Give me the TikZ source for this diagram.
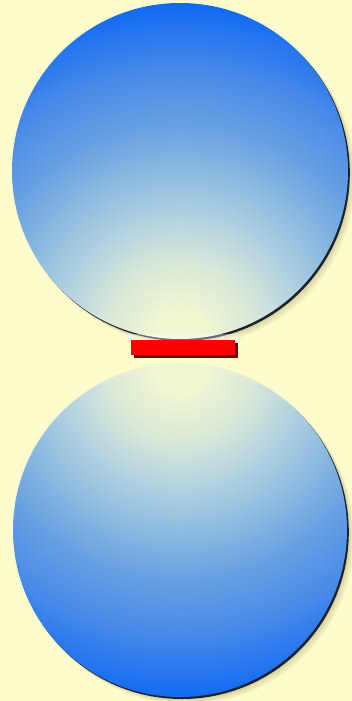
\documentclass[tikz,border=0pt]{standalone}
\usetikzlibrary{calc}
\definecolor{bg}{RGB}{253,252,204}
\definecolor{cream}{RGB}{242,246,210}
\definecolor{c1}{RGB}{216,232,216}
\definecolor{c2}{RGB}{176,208,224}
\definecolor{c3}{RGB}{136,184,224}
\definecolor{c4}{RGB}{104,160,226}
\definecolor{c5}{RGB}{72,138,232}
\definecolor{c6}{RGB}{10,102,245}
\definecolor{rimdark}{RGB}{26,34,48}
\definecolor{blurc}{RGB}{170,160,110}
\definecolor{barred}{RGB}{250,0,0}
\definecolor{bardark}{RGB}{130,0,0}
\pgfdeclareradialshading{glow}{\pgfpoint{0bp}{0bp}}{%
  color(0bp)=(cream); color(1.8bp)=(cream); color(5.5bp)=(c1); color(9bp)=(c2); color(12.5bp)=(c3);
  color(15.5bp)=(c4); color(19.5bp)=(c5); color(25bp)=(c6); color(50bp)=(c6)}
\tikzset{
  shadowring/.style={fill=blurc, opacity=0.12},
  rim/.style={fill=rimdark},
}
\begin{document}
\begin{tikzpicture}[x=1pt,y=-1pt]
\useasboundingbox (0,0) rectangle (352,701);
\fill[bg] (0,0) rectangle (352,701);
% named centres
\coordinate (topc) at (180,171);
\coordinate (botc) at (180,530);
\coordinate (topglow) at (180,336);
\coordinate (botglow) at (180,368);
% top circle shadow
\foreach \s in {7,5.5,4,3}{\fill[shadowring] ($(topc)+(\s,\s)$) circle (168);}
\fill[rim] ($(topc)+(1.8,2)$) circle (168);
\begin{scope}
  \clip (topc) circle (168);
  \shade[shading=glow] (topglow) circle (340);
\end{scope}
% bottom circle shadow
\foreach \s in {7,5.5,4,3}{\fill[shadowring] ($(botc)+(\s,\s)$) circle (167);}
\fill[rim] ($(botc)+(1.8,2)$) circle (167);
\begin{scope}
  \clip (botc) circle (167);
  \shade[shading=glow] (botglow) circle (340);
\end{scope}
% red bar
\fill[white, opacity=0.35] (128,334) rectangle (240,342);
\fill[bardark] (134,343) rectangle (238,358);
\node[fill=barred, inner sep=0pt, minimum width=104pt, minimum height=15pt, anchor=north west] (bar) at (131,340) {};
\end{tikzpicture}
\end{document}
